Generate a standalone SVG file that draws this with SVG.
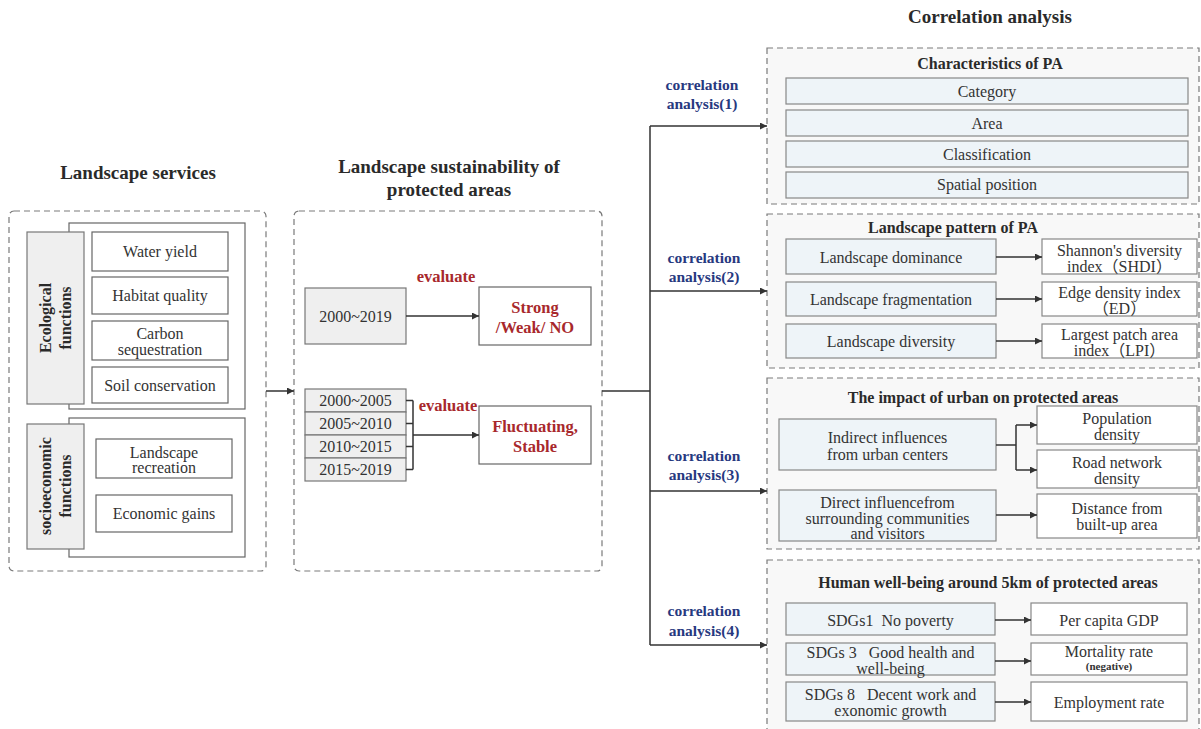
<svg xmlns="http://www.w3.org/2000/svg" width="1201" height="729" viewBox="0 0 1201 729">
<defs>
<marker id="ah" viewBox="0 0 10 10" refX="10" refY="5" markerWidth="9" markerHeight="7" markerUnits="userSpaceOnUse" orient="auto"><path d="M0,0 L10,5 L0,10 z" fill="#333"/></marker>
<style>
text{font-family:"Liberation Serif","Noto Sans CJK SC",serif;fill:#333;text-anchor:middle;dominant-baseline:central}
.t{font-size:19px;font-weight:bold;fill:#2a2a2a}
.h{font-size:16px;font-weight:bold;fill:#2a2a2a}
.v{font-size:16px;font-weight:bold;fill:#2a2a2a}
.b{font-size:16px}
.red{fill:#a8282c;font-weight:bold;font-size:16.5px}
.blue{fill:#27397f;font-weight:bold;font-size:15.5px}
.dash{fill:#fff;stroke:#7a7a7a;stroke-width:1.2;stroke-dasharray:6 4}
.dashg{fill:#f8f8f8;stroke:#7a7a7a;stroke-width:1.2;stroke-dasharray:6 4}
.box{fill:#fff;stroke:#666;stroke-width:1.2}
.gray{fill:#efefef;stroke:#777;stroke-width:1.2}
.lb{fill:#eef4f8;stroke:#888;stroke-width:1.2}
.wb{fill:#fff;stroke:#888;stroke-width:1.2}
.c{fill:none;stroke:#333;stroke-width:1.5}
</style>
</defs>

<g id="titles">
<text class="t" x="138" y="172">Landscape services</text>
<text class="t" x="449" y="166">Landscape sustainability of</text>
<text class="t" x="449" y="189">protected areas</text>
<text class="t" x="990" y="16">Correlation analysis</text>
</g>

<g id="landscape-services">
<rect class="dash" x="9" y="211" width="257" height="360" rx="5"/>
<g id="ecological">
<rect class="box" x="69" y="223" width="176" height="186"/>
<rect class="gray" x="27" y="232" width="57" height="172"/>
<g transform="translate(55.5,318) rotate(-90)"><text class="v" x="0" y="-10">Ecological</text><text class="v" x="0" y="10">functions</text></g>
<rect class="box" x="92" y="232" width="136" height="39"/><text class="b" x="160" y="251.5">Water yield</text>
<rect class="box" x="92" y="277" width="136" height="37"/><text class="b" x="160" y="295.5">Habitat quality</text>
<rect class="box" x="92" y="321" width="136" height="39"/><text class="b" x="160" y="333">Carbon</text><text class="b" x="160" y="349">sequestration</text>
<rect class="box" x="92" y="367" width="136" height="36"/><text class="b" x="160" y="385">Soil conservation</text>
</g>
<g id="socioeconomic">
<rect class="box" x="69" y="418" width="176" height="139"/>
<rect class="gray" x="27" y="424" width="57" height="125"/>
<g transform="translate(55.5,486) rotate(-90)"><text class="v" x="0" y="-10">socioeconomic</text><text class="v" x="0" y="10">functions</text></g>
<rect class="box" x="96" y="439" width="136" height="39"/><text class="b" x="164" y="452">Landscape</text><text class="b" x="164" y="467">recreation</text>
<rect class="box" x="96" y="495" width="136" height="37"/><text class="b" x="164" y="513.5">Economic gains</text>
</g>
</g>

<g id="sustainability">
<rect class="dash" x="294" y="211" width="308" height="360" rx="5"/>
<g id="p2000-2019"><rect class="gray" x="305" y="288" width="101" height="56"/><text class="b" x="355.5" y="316">2000~2019</text></g>
<g id="strong"><rect class="box" x="479" y="287" width="112" height="58"/><text class="red" x="535" y="307">Strong</text><text class="red" x="535" y="327">/Weak/ NO</text></g>
<g id="periods">
<rect class="gray" x="305" y="389" width="101" height="23"/><text class="b" x="355.5" y="400.5">2000~2005</text>
<rect class="gray" x="305" y="412" width="101" height="23"/><text class="b" x="355.5" y="423.5">2005~2010</text>
<rect class="gray" x="305" y="435" width="101" height="23"/><text class="b" x="355.5" y="446.5">2010~2015</text>
<rect class="gray" x="305" y="458" width="101" height="23"/><text class="b" x="355.5" y="469.5">2015~2019</text>
</g>
<g id="fluct"><rect class="box" x="479" y="406" width="112" height="58"/><text class="red" x="535" y="426">Fluctuating,</text><text class="red" x="535" y="446">Stable</text></g>
<text class="red" x="446" y="276">evaluate</text>
<text class="red" x="448" y="405">evaluate</text>
</g>

<g id="char-pa">
<rect class="dashg" x="767" y="48" width="432" height="156"/>
<text class="h" x="990" y="63">Characteristics of PA</text>
<rect class="lb" x="786" y="78" width="402" height="26"/><text class="b" x="987" y="91">Category</text>
<rect class="lb" x="786" y="110" width="402" height="26"/><text class="b" x="987" y="123">Area</text>
<rect class="lb" x="786" y="141" width="402" height="26"/><text class="b" x="987" y="154.5">Classification</text>
<rect class="lb" x="786" y="172" width="402" height="26"/><text class="b" x="987" y="184.5">Spatial position</text>
</g>

<g id="pattern-pa">
<rect class="dashg" x="767" y="214" width="432" height="154"/>
<text class="h" x="953" y="227">Landscape pattern of PA</text>
<rect class="lb" x="786" y="239" width="210" height="35"/><text class="b" x="891" y="257">Landscape dominance</text>
<rect class="lb" x="786" y="282" width="210" height="34"/><text class="b" x="891" y="299.5">Landscape fragmentation</text>
<rect class="lb" x="786" y="324" width="210" height="34"/><text class="b" x="891" y="341.5">Landscape diversity</text>
<rect class="wb" x="1042" y="239" width="155" height="35"/><text class="b" x="1119.5" y="250">Shannon's diversity</text><text class="b" x="1119.5" y="266">index（SHDI）</text>
<rect class="wb" x="1042" y="282" width="155" height="34"/><text class="b" x="1119.5" y="292">Edge density index</text><text class="b" x="1119.5" y="308">（ED）</text>
<rect class="wb" x="1042" y="324" width="155" height="34"/><text class="b" x="1119.5" y="334">Largest patch area</text><text class="b" x="1119.5" y="350">index（LPI）</text>
</g>

<g id="urban-impact">
<rect class="dashg" x="767" y="378" width="432" height="171"/>
<text class="h" x="983" y="397">The impact of urban on protected areas</text>
<rect class="lb" x="779" y="419" width="217" height="51"/><text class="b" x="887.5" y="437">Indirect influences</text><text class="b" x="887.5" y="454">from urban centers</text>
<rect class="lb" x="779" y="490" width="217" height="51"/><text class="b" x="887.5" y="502">Direct influencefrom</text><text class="b" x="887.5" y="518">surrounding communities</text><text class="b" x="887.5" y="533">and visitors</text>
<rect class="wb" x="1037" y="406" width="160" height="38"/><text class="b" x="1117" y="418">Population</text><text class="b" x="1117" y="434">density</text>
<rect class="wb" x="1037" y="450" width="160" height="38"/><text class="b" x="1117" y="462">Road network</text><text class="b" x="1117" y="478">density</text>
<rect class="wb" x="1037" y="494" width="160" height="44"/><text class="b" x="1117" y="508">Distance from</text><text class="b" x="1117" y="524">built-up area</text>
</g>

<g id="well-being">
<rect class="dashg" x="767" y="560" width="432" height="190"/>
<text class="h" x="988" y="582">Human well-being around 5km of protected areas</text>
<rect class="lb" x="786" y="603" width="209" height="32"/><text class="b" x="890.5" y="620">SDGs1&#160; No poverty</text>
<rect class="lb" x="786" y="643" width="209" height="32"/><text class="b" x="890.5" y="652">SDGs 3&#160;&#160; Good health and</text><text class="b" x="890.5" y="668">well-being</text>
<rect class="lb" x="786" y="682" width="209" height="39"/><text class="b" x="890.5" y="694">SDGs 8&#160;&#160; Decent work and</text><text class="b" x="890.5" y="710">exonomic growth</text>
<rect class="wb" x="1031" y="603" width="156" height="32"/><text class="b" x="1109" y="620">Per capita GDP</text>
<rect class="wb" x="1031" y="643" width="156" height="32"/><text class="b" x="1109" y="651">Mortality rate</text><text style="font-size:11px;font-weight:bold" x="1109" y="666">(negative)</text>
<rect class="wb" x="1031" y="682" width="156" height="39"/><text class="b" x="1109" y="702">Employment rate</text>
</g>

<g id="labels">
<text class="blue" x="702" y="84">correlation</text><text class="blue" x="702" y="103">analysis(1)</text>
<text class="blue" x="704" y="257">correlation</text><text class="blue" x="704" y="276">analysis(2)</text>
<text class="blue" x="704" y="455">correlation</text><text class="blue" x="704" y="474">analysis(3)</text>
<text class="blue" x="704" y="610">correlation</text><text class="blue" x="704" y="630">analysis(4)</text>
</g>

<g id="connectors">
<line class="c" x1="266" y1="391" x2="294" y2="391" marker-end="url(#ah)"/>
<line class="c" x1="406" y1="316" x2="479" y2="316" marker-end="url(#ah)"/>
<path class="c" d="M406,400.5 H413 M406,423.5 H413 M406,446.5 H413 M406,469.5 H413 M413,400.5 V469.5"/>
<line class="c" x1="413" y1="435" x2="479" y2="435" marker-end="url(#ah)"/>
<path class="c" d="M602,391 H650 M650,126 V645"/>
<line class="c" x1="650" y1="126" x2="767" y2="126" marker-end="url(#ah)"/>
<line class="c" x1="650" y1="291" x2="767" y2="291" marker-end="url(#ah)"/>
<line class="c" x1="650" y1="491" x2="767" y2="491" marker-end="url(#ah)"/>
<line class="c" x1="650" y1="645" x2="767" y2="645" marker-end="url(#ah)"/>
<line class="c" x1="996" y1="257" x2="1042" y2="257" marker-end="url(#ah)"/>
<line class="c" x1="996" y1="299" x2="1042" y2="299" marker-end="url(#ah)"/>
<line class="c" x1="996" y1="341" x2="1042" y2="341" marker-end="url(#ah)"/>
<path class="c" d="M996,445 H1016 M1016,425 V470"/>
<line class="c" x1="1016" y1="425" x2="1037" y2="425" marker-end="url(#ah)"/>
<line class="c" x1="1016" y1="470" x2="1037" y2="470" marker-end="url(#ah)"/>
<line class="c" x1="996" y1="515" x2="1037" y2="515" marker-end="url(#ah)"/>
<line class="c" x1="995" y1="620" x2="1031" y2="620" marker-end="url(#ah)"/>
<line class="c" x1="995" y1="661" x2="1031" y2="661" marker-end="url(#ah)"/>
<line class="c" x1="995" y1="702" x2="1031" y2="702" marker-end="url(#ah)"/>
</g>
</svg>
